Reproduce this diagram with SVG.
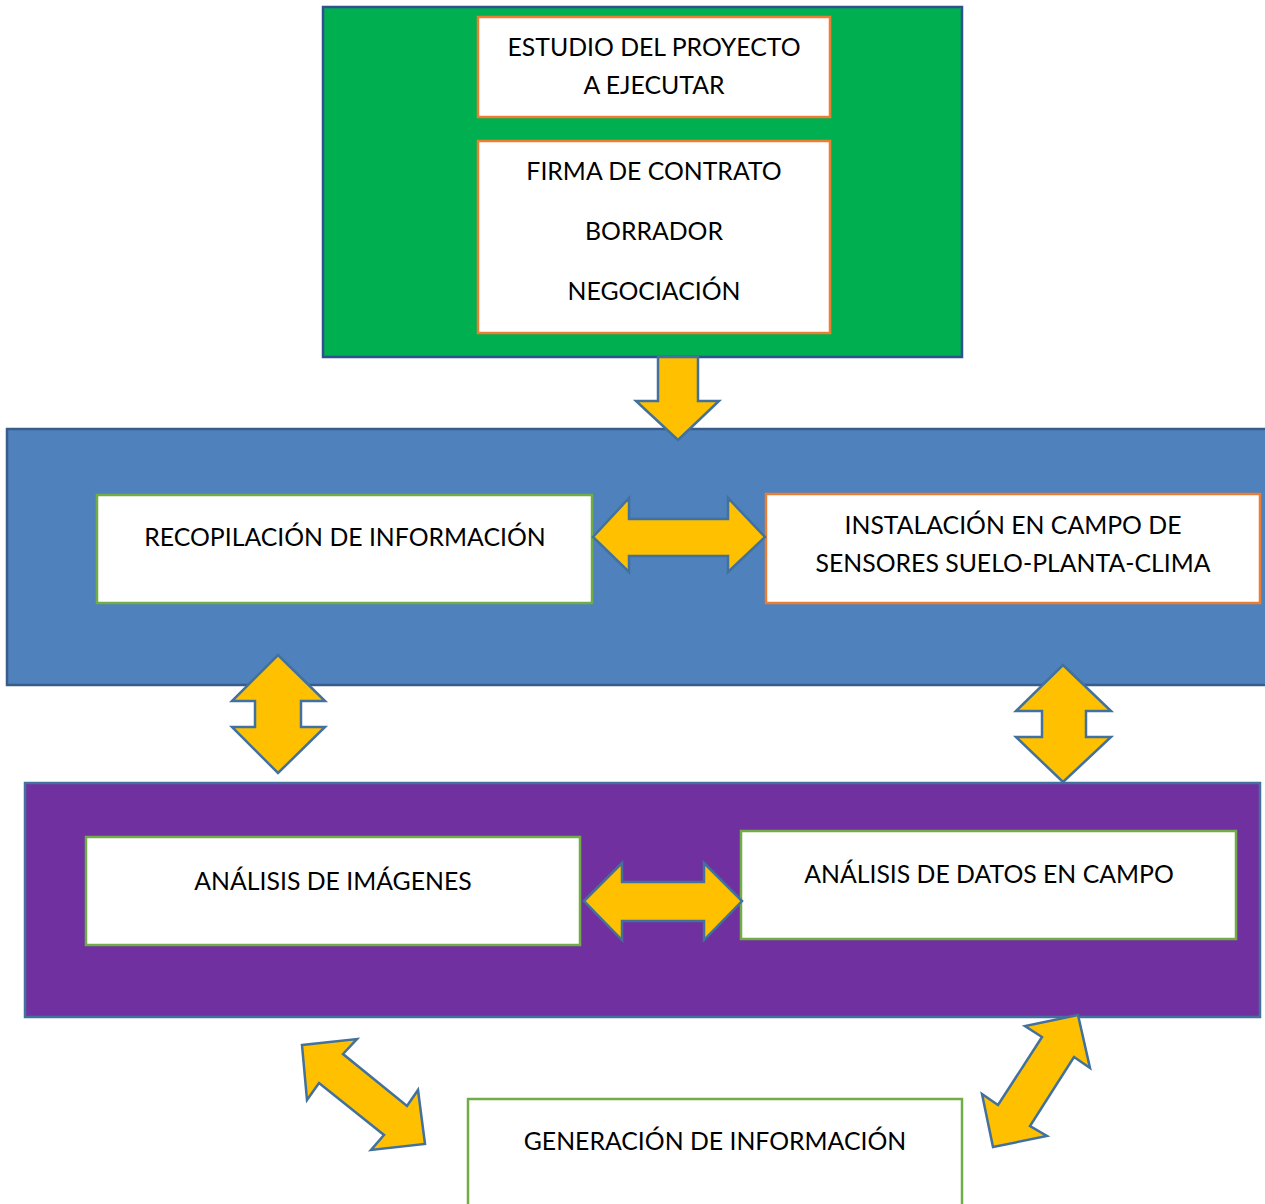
<svg xmlns="http://www.w3.org/2000/svg" width="1265" height="1204" viewBox="0 0 1265 1204">
  <style>
    .panel { stroke-width: 2.5; }
    .box { fill: #ffffff; stroke-width: 2.5; }
    .orange { stroke: #ED7D31; }
    .green { stroke: #70AD47; }
    .arrow { fill: #FFC000; stroke: #41719C; stroke-width: 2.5; stroke-linejoin: miter; }
    text { font-family: "Lato", "Liberation Sans", sans-serif; font-size: 24.8px; fill: #000000; text-anchor: middle; }
  </style>

  <rect width="1265" height="1204" fill="#ffffff"/>

  <!-- Stage 1: project study and contract -->
  <g id="stage-contract">
    <rect class="panel" x="323" y="7" width="639" height="350" fill="#00B050" stroke="#2F528F"/>
  </g>
  <g id="node-estudio">
    <rect class="box orange" x="478" y="17" width="352" height="100"/>
    <text x="654" y="56">ESTUDIO DEL PROYECTO</text>
    <text x="654" y="94">A EJECUTAR</text>
  </g>
  <g id="node-contrato">
    <rect class="box orange" x="478" y="141" width="352" height="192"/>
    <text x="654" y="180">FIRMA DE CONTRATO</text>
    <text x="654" y="240">BORRADOR</text>
    <text x="654" y="300">NEGOCIACIÓN</text>
  </g>

  <!-- Stage 2: data collection -->
  <g id="stage-collection">
    <rect class="panel" x="7" y="429" width="1270" height="256" fill="#4F81BD" stroke="#385D8A"/>
  </g>
  <g id="node-recopilacion">
    <rect class="box green" x="97" y="495" width="495" height="108"/>
    <text x="345" y="546">RECOPILACIÓN DE INFORMACIÓN</text>
  </g>
  <g id="node-instalacion">
    <rect class="box orange" x="766" y="494" width="494" height="109"/>
    <text x="1013" y="534">INSTALACIÓN EN CAMPO DE</text>
    <text x="1013" y="572">SENSORES SUELO-PLANTA-CLIMA</text>
  </g>

  <!-- Stage 3: analysis -->
  <g id="stage-analysis">
    <rect class="panel" x="25" y="783" width="1235" height="234" fill="#7030A0" stroke="#41719C"/>
  </g>
  <g id="node-imagenes">
    <rect class="box green" x="86" y="837" width="494" height="108"/>
    <text x="333" y="890">ANÁLISIS DE IMÁGENES</text>
  </g>
  <g id="node-datos">
    <rect class="box green" x="741" y="831" width="495" height="108"/>
    <text x="989" y="883">ANÁLISIS DE DATOS EN CAMPO</text>
  </g>

  <!-- Output -->
  <g id="node-generacion">
    <rect class="box green" x="468" y="1099" width="494" height="120"/>
    <text x="715" y="1150">GENERACIÓN DE INFORMACIÓN</text>
  </g>

  <!-- Block arrows linking the stages -->
  <g id="connectors">
    <polygon class="arrow" points="658,357 698,357 698,401 719,401 678,440 636,401 658,401"/>
    <polygon class="arrow" points="593,537 629,498 629,519 728,519 728,498 765,537 728,572 728,556 629,556 629,572"/>
    <polygon class="arrow" points="278,655 325,701 301,701 301,727 325,727 278,773 232,727 255,727 255,701 232,701"/>
    <polygon class="arrow" points="1063,665 1111,711 1086,711 1086,737 1111,737 1063,782 1016,737 1042,737 1042,711 1016,711"/>
    <polygon class="arrow" points="584,901 622,863 622,882 704,882 704,863 742,901 704,940 704,921 622,921 622,940"/>
    <polygon class="arrow" points="302,1045 357,1039 343,1054 407,1106 418,1090 425,1144 371,1150 384,1135 319,1083 307,1100"/>
    <polygon class="arrow" points="1078,1015 1090,1068 1074,1057 1030,1126 1047,1136 993,1147 982,1094 998,1105 1042,1037 1025,1026"/>
  </g>
</svg>
